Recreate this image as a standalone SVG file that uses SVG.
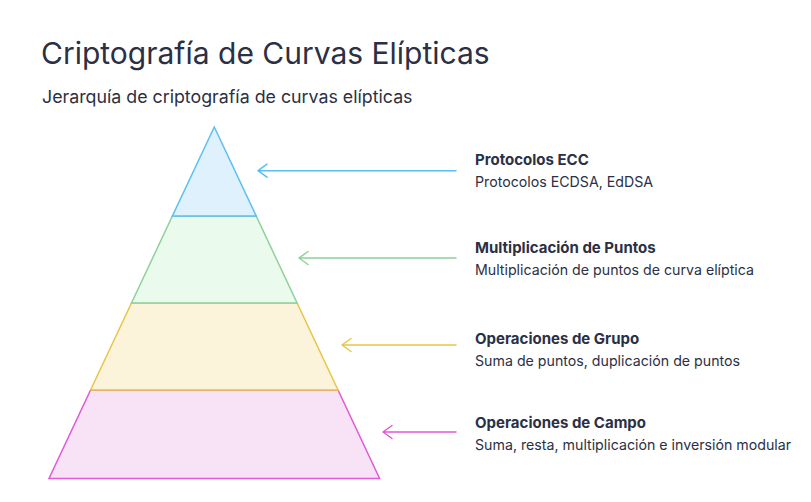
<svg xmlns="http://www.w3.org/2000/svg" width="811" height="502" viewBox="0 0 811 502">
<style>
.t{font-family:Inter,Roboto,"Liberation Sans",sans-serif;fill:#2b3044}
.h{font-size:15px;font-weight:bold}
.s{font-size:14.2px}
.c{fill:none;stroke-width:1.5;stroke-linecap:round;stroke-linejoin:round}
</style>
<rect width="811" height="502" fill="#ffffff"/>
<text class="t" x="41" y="64" font-size="30">Criptografía de Curvas Elípticas</text>
<text class="t" x="42" y="103" font-size="17.8">Jerarquía de criptografía de curvas elípticas</text>
<g id="layer4"><polygon points="90.6,390 338,390 379.6,478.5 49,478.5" fill="#f8e3f6" stroke="#e05ad6" stroke-width="1.5"/></g>
<g id="layer3"><polygon points="131.5,303 297.1,303 338,390 90.6,390" fill="#fbf4db" stroke="#e8c547" stroke-width="1.5"/></g>
<g id="layer2"><polygon points="172.4,216 256.2,216 297.1,303 131.5,303" fill="#eafaec" stroke="#8fd19a" stroke-width="1.5"/></g>
<g id="layer1"><polygon points="214.3,127 256.2,216 172.4,216" fill="#dff1fc" stroke="#5bc0f0" stroke-width="1.5"/></g>
<g id="connectors">
<path class="c" stroke="#5bc0f0" d="M456,170.7H258M267,164.2L258,170.7L267,177.2"/>
<path class="c" stroke="#8fd19a" d="M456,258H299M308,251.5L299,258L308,264.5"/>
<path class="c" stroke="#e8c547" d="M456,345H342M351,338.5L342,345L351,351.5"/>
<path class="c" stroke="#e05ad6" d="M456,432H383M392,425.5L383,432L392,438.5"/>
</g>
<g id="label1"><text class="t h" x="475" y="165">Protocolos ECC</text><text class="t s" x="475" y="187">Protocolos ECDSA, EdDSA</text></g>
<g id="label2"><text class="t h" x="475" y="253">Multiplicación de Puntos</text><text class="t s" x="475" y="275">Multiplicación de puntos de curva elíptica</text></g>
<g id="label3"><text class="t h" x="475" y="344">Operaciones de Grupo</text><text class="t s" x="475" y="366">Suma de puntos, duplicación de puntos</text></g>
<g id="label4"><text class="t h" x="475" y="428">Operaciones de Campo</text><text class="t s" x="475" y="450">Suma, resta, multiplicación e inversión modular</text></g>
</svg>
